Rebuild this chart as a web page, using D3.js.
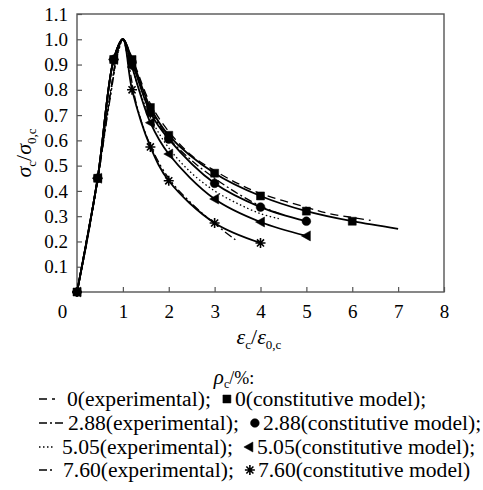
<!DOCTYPE html>
<html>
<head>
<meta charset="utf-8">
<script src="https://cdn.jsdelivr.net/npm/d3@7"></script>
<style>
  body { margin: 0; background: #fff; }
  #chart { width: 483px; height: 490px; }
  svg text { font-family: "Liberation Serif", "Times New Roman", Times, serif; fill: #000; }
  .axis text { font-size: 19px; }
  .axis path { display: none; }
  .axis line { stroke: #555; stroke-width: 1.2; }
</style>
</head>
<body>
<div id="chart"></div>
<script>
// reinforcement ratio of each series
const rho = ["0", "2.88", "5.05", "7.60"];

// constitutive model curves (strain ratio, stress ratio)
const modelStrain0 = [0, 0.45, 0.8, 1, 1.2, 1.6, 2, 3, 4, 5, 6, 7];
const modelStress0 = [0, 0.45, 0.92, 1, 0.92, 0.73, 0.62, 0.47, 0.38, 0.32, 0.28, 0.25];
const modelStrain288 = [0, 0.45, 0.8, 1, 1.2, 1.6, 2, 3, 4, 5];
const modelStress288 = [0, 0.45, 0.92, 1, 0.91, 0.71, 0.605, 0.43, 0.336, 0.28];
const modelStrain505 = [0, 0.45, 0.8, 1, 1.2, 1.6, 2, 3, 4, 5];
const modelStress505 = [0, 0.45, 0.92, 1, 0.89, 0.67, 0.546, 0.368, 0.277, 0.222];
const modelStrain760 = [0, 0.45, 0.8, 1, 1.2, 1.6, 2, 3, 4];
const modelStress760 = [0, 0.45, 0.92, 1, 0.80, 0.574, 0.44, 0.273, 0.194];

// experimental curves
const expStrain0 = [0, 0.2, 0.45, 0.7, 0.9, 1, 1.1, 1.3, 1.6, 2, 2.5, 3, 3.5, 4, 5, 5.5, 6, 6.4];
const expStress0 = [0, 0.19, 0.44, 0.75, 0.96, 1, 0.97, 0.88, 0.745, 0.635, 0.54, 0.48, 0.43, 0.39, 0.335, 0.31, 0.295, 0.283];
const expStrain288 = [0, 0.2, 0.45, 0.7, 0.9, 1, 1.1, 1.3, 1.6, 2, 2.5, 3, 3.5, 4, 4.4];
const expStress288 = [0, 0.2, 0.45, 0.76, 0.96, 1, 0.96, 0.86, 0.72, 0.61, 0.52, 0.45, 0.39, 0.34, 0.31];
const expStrain505 = [0, 0.2, 0.45, 0.7, 0.9, 1, 1.1, 1.3, 1.6, 2, 2.5, 3, 3.5, 4, 4.4];
const expStress505 = [0, 0.19, 0.45, 0.75, 0.95, 1, 0.95, 0.83, 0.69, 0.57, 0.47, 0.40, 0.35, 0.31, 0.29];
const expStrain760 = [0, 0.2, 0.45, 0.7, 0.9, 1, 1.1, 1.3, 1.6, 2, 2.5, 3, 3.5];
const expStress760 = [0, 0.18, 0.44, 0.74, 0.95, 1, 0.93, 0.74, 0.58, 0.45, 0.35, 0.27, 0.2];

const xTicks = [0, 1, 2, 3, 4, 5, 6, 7, 8];
const yTicks = [0.1, 0.2, 0.3, 0.4, 0.5, 0.6, 0.7, 0.8, 0.9, 1.0, 1.1];

const width = 483, height = 490;
const margin = {top: 14, left: 77, right: 39, bottom: 198};

const svg = d3.select("#chart").append("svg")
    .attr("width", width)
    .attr("height", height)
    .attr("font-family", "Liberation Serif, Times New Roman, serif");

const x = d3.scaleLinear().domain([0, 8]).range([margin.left, width - margin.right]);
const y = d3.scaleLinear().domain([0, 1.1]).range([height - margin.bottom, margin.top]);

const zip = (xs, ys) => xs.map((v, i) => [v, ys[i]]);

const models = [
    {pts: zip(modelStrain0, modelStress0), symbol: "square"},
    {pts: zip(modelStrain288, modelStress288), symbol: "circle"},
    {pts: zip(modelStrain505, modelStress505), symbol: "triangle"},
    {pts: zip(modelStrain760, modelStress760), symbol: "asterisk"}
];
const exps = [
    {pts: zip(expStrain0, expStress0), dash: "8,5"},
    {pts: zip(expStrain288, expStress288), dash: "8,3,2,3"},
    {pts: zip(expStrain505, expStress505), dash: "1.5,2.5"},
    {pts: zip(expStrain760, expStress760), dash: "8,3,2,3,2,3"}
];

// frame
svg.append("rect")
    .attr("x", x(0)).attr("y", y(1.1))
    .attr("width", x(8) - x(0)).attr("height", y(0) - y(1.1))
    .attr("fill", "none").attr("stroke", "#555").attr("stroke-width", 1.4);

const xAxis = svg.append("g")
    .attr("class", "axis")
    .attr("transform", `translate(0,${y(0)})`)
    .call(d3.axisBottom(x).tickValues(xTicks).tickSizeInner(-5).tickSizeOuter(0).tickPadding(13));
xAxis.attr("font-family", null);
xAxis.selectAll(".tick").filter(d => d === 0).select("text").attr("dx", -15);
xAxis.selectAll(".tick").filter(d => d === 0).select("line").remove();

const yAxis = svg.append("g")
    .attr("class", "axis")
    .attr("transform", `translate(${x(0)},0)`)
    .call(d3.axisLeft(y).tickValues(yTicks).tickFormat(d3.format(".1f"))
        .tickSizeInner(-5).tickSizeOuter(0).tickPadding(9));
yAxis.attr("font-family", null);

const line = d3.line()
    .x(d => x(d[0]))
    .y(d => y(d[1]))
    .curve(d3.curveCatmullRom.alpha(0.5));

// experimental curves
svg.selectAll(".exp")
    .data(exps)
    .enter()
    .append("path")
        .attr("class", "exp")
        .attr("d", d => line(d.pts))
        .attr("fill", "none")
        .attr("stroke", "#000")
        .attr("stroke-width", 1.3)
        .attr("stroke-dasharray", d => d.dash);

// model curves
svg.selectAll(".model")
    .data(models)
    .enter()
    .append("path")
        .attr("class", "model")
        .attr("d", d => line(d.pts))
        .attr("fill", "none")
        .attr("stroke", "#000")
        .attr("stroke-width", 1.8);

function symbolPath(type) {
    if (type === "square") return d3.symbol(d3.symbolSquare, 64)();
    if (type === "circle") return d3.symbol(d3.symbolCircle, 60)();
    if (type === "triangle") return "M-5,0L4,-5L4,5Z";
    const r = 5, q = r * Math.SQRT1_2;
    return `M${-r},0L${r},0M0,${-r}L0,${r}M${-q},${-q}L${q},${q}M${-q},${q}L${q},${-q}`;
}

function drawSymbol(g, type) {
    g.append("path")
        .attr("d", symbolPath(type))
        .attr("fill", type === "asterisk" ? "none" : "#000")
        .attr("stroke", "#000")
        .attr("stroke-width", type === "asterisk" ? 1.6 : 0.5);
}

models.forEach(function(m) {
    const marks = m.pts.filter(p => p[0] !== 1 && p[0] !== 7);
    marks.forEach(function(p) {
        const g = svg.append("g").attr("transform", `translate(${x(p[0])},${y(p[1])})`);
        drawSymbol(g, m.symbol);
    });
});

// axis titles
const yTitle = svg.append("text")
    .attr("transform", `translate(31,${(y(0) + y(1.1)) / 2}) rotate(-90)`)
    .attr("text-anchor", "middle")
    .style("font-size", "22px");
yTitle.append("tspan").style("font-style", "italic").text("σ");
yTitle.append("tspan").attr("dy", 5).style("font-size", "13px").text("c");
yTitle.append("tspan").attr("dy", -5).text("/");
yTitle.append("tspan").style("font-style", "italic").text("σ");
yTitle.append("tspan").attr("dy", 5).style("font-size", "13px").text("0,c");

const xTitle = svg.append("text")
    .attr("x", 259)
    .attr("y", 344)
    .attr("text-anchor", "middle")
    .style("font-size", "22px");
xTitle.append("tspan").style("font-style", "italic").text("ε");
xTitle.append("tspan").attr("dy", 5).style("font-size", "13px").text("c");
xTitle.append("tspan").attr("dy", -5).text("/");
xTitle.append("tspan").style("font-style", "italic").text("ε");
xTitle.append("tspan").attr("dy", 5).style("font-size", "13px").text("0,c");

// legend
const legTitle = svg.append("text")
    .attr("x", 234)
    .attr("y", 384)
    .attr("text-anchor", "middle")
    .style("font-size", "21px");
legTitle.append("tspan").style("font-style", "italic").text("ρ");
legTitle.append("tspan").attr("dy", 4).style("font-size", "12px").text("c");
legTitle.append("tspan").attr("dy", -4).style("font-size", "18px").text("/%:");

const rowY = [406, 430, 454, 477];
const symLen = [16, 26, 14, 14];
const textX = [67, 68, 62, 63];
const fs = 21.6;

rho.forEach(function(r, i) {
    const yy = rowY[i];
    svg.append("line")
        .attr("x1", 39).attr("x2", 39 + symLen[i])
        .attr("y1", yy - 7).attr("y2", yy - 7)
        .attr("stroke", "#000").attr("stroke-width", 1.3)
        .attr("stroke-dasharray", exps[i].dash);
    const t1 = svg.append("text")
        .attr("x", textX[i]).attr("y", yy)
        .style("font-size", fs + "px")
        .text(r + "(experimental);");
    const end1 = textX[i] + t1.node().getComputedTextLength();
    const g = svg.append("g").attr("transform", `translate(${end1 + 16},${yy - 7})`);
    drawSymbol(g, models[i].symbol);
    svg.append("text")
        .attr("x", end1 + 24).attr("y", yy)
        .style("font-size", fs + "px")
        .text(r + "(constitutive model)" + (i < 3 ? ";" : ""));
});
</script>
</body>
</html>
